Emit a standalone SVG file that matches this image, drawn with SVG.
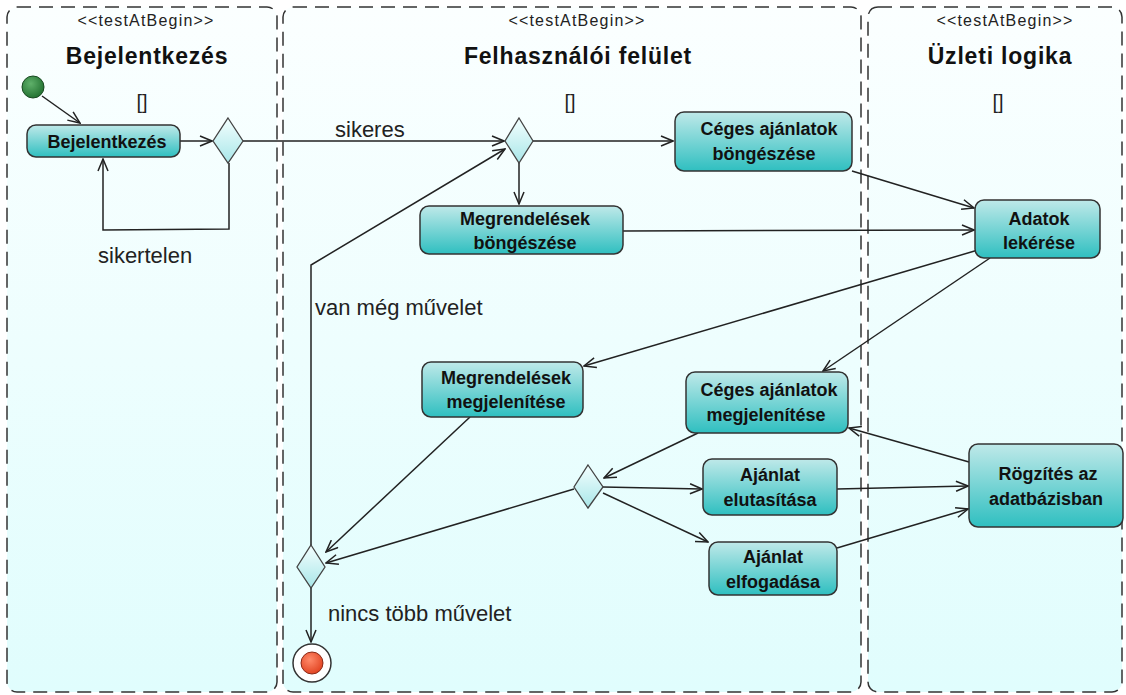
<svg xmlns="http://www.w3.org/2000/svg" width="1126" height="695" viewBox="0 0 1126 695">
<defs>
<linearGradient id="laneG" x1="0" y1="0" x2="0" y2="1"><stop offset="0" stop-color="#fbffff"/><stop offset="1" stop-color="#e0fdfd"/></linearGradient>
<linearGradient id="nodeG" x1="0" y1="0" x2="0" y2="1"><stop offset="0" stop-color="#bfe9e9"/><stop offset="1" stop-color="#2fbfc0"/></linearGradient>
<linearGradient id="decG" x1="0" y1="0" x2="0" y2="1"><stop offset="0" stop-color="#f4ffff"/><stop offset="1" stop-color="#a8e6e8"/></linearGradient>
<radialGradient id="startG" cx="0.4" cy="0.35" r="0.7"><stop offset="0" stop-color="#5fb06a"/><stop offset="1" stop-color="#1f6e2e"/></radialGradient>
<radialGradient id="endG" cx="0.4" cy="0.35" r="0.7"><stop offset="0" stop-color="#ff8a6a"/><stop offset="1" stop-color="#e0401e"/></radialGradient>
<marker id="arr" markerWidth="14" markerHeight="12" refX="13" refY="6" orient="auto" markerUnits="userSpaceOnUse"><path d="M1,1 L13,6 L1,11" fill="none" stroke="#222" stroke-width="1.5"/></marker>
</defs>
<style>
.lane{fill:url(#laneG);stroke:#333;stroke-width:1.5;stroke-dasharray:14 8}
.ster{font-family:"Liberation Sans",Arial,sans-serif;font-size:16px;letter-spacing:1.2px;fill:#222;text-anchor:middle}
.ttl{font-family:"Liberation Sans",Arial,sans-serif;font-size:23px;letter-spacing:0.8px;font-weight:bold;fill:#111;text-anchor:middle}
.br{font-family:"Liberation Sans",Arial,sans-serif;font-size:20px;fill:#222;text-anchor:middle}
.node{fill:url(#nodeG);stroke:#333;stroke-width:1.5}
.nt{font-family:"Liberation Sans",Arial,sans-serif;font-size:18px;font-weight:bold;fill:#111;text-anchor:middle}
.dec{fill:url(#decG);stroke:#444;stroke-width:1.3}
.lbl{font-family:"Liberation Sans",Arial,sans-serif;font-size:22px;fill:#222}
.con{fill:none;stroke:#222;stroke-width:1.5}
</style>
<g id="lanes">
<rect class="lane" x="7" y="7" width="270" height="685" rx="10"/>
<rect class="lane" x="283" y="7" width="578" height="685" rx="10"/>
<rect class="lane" x="868" y="7" width="254" height="685" rx="10"/>
<text class="ster" x="146" y="26">&lt;&lt;testAtBegin&gt;&gt;</text>
<text class="ttl" x="147" y="64">Bejelentkezés</text>
<text class="br" x="142" y="109">[]</text>
<text class="ster" x="577" y="26">&lt;&lt;testAtBegin&gt;&gt;</text>
<text class="ttl" x="578" y="64">Felhasználói felület</text>
<text class="br" x="570" y="109">[]</text>
<text class="ster" x="1005" y="26">&lt;&lt;testAtBegin&gt;&gt;</text>
<text class="ttl" x="1000" y="64">Üzleti logika</text>
<text class="br" x="998" y="109">[]</text>
</g>
<g id="connectors">
<path class="con" d="M42,96 L80,123" marker-end="url(#arr)"/>
<path class="con" d="M180,141 L212,141" marker-end="url(#arr)"/>
<path class="con" d="M229,163 L229,229 L103,230 L103,159" marker-end="url(#arr)"/>
<path class="con" d="M243,141 L504,141" marker-end="url(#arr)"/>
<path class="con" d="M533,141 L673,141" marker-end="url(#arr)"/>
<path class="con" d="M519,163 L519,204" marker-end="url(#arr)"/>
<path class="con" d="M852,171 L974,208" marker-end="url(#arr)"/>
<path class="con" d="M623,231 L974,230" marker-end="url(#arr)"/>
<path class="con" d="M978,250 L584,366" marker-end="url(#arr)"/>
<path class="con" d="M990,258 L823,371" marker-end="url(#arr)"/>
<path class="con" d="M969,462 L849,428" marker-end="url(#arr)"/>
<path class="con" d="M837,489 L968,486" marker-end="url(#arr)"/>
<path class="con" d="M837,548 L968,509" marker-end="url(#arr)"/>
<path class="con" d="M698,433 L604,478" marker-end="url(#arr)"/>
<path class="con" d="M603,487 L702,489" marker-end="url(#arr)"/>
<path class="con" d="M603,493 L708,542" marker-end="url(#arr)"/>
<path class="con" d="M574,489 L326,563" marker-end="url(#arr)"/>
<path class="con" d="M470,417 L326,552" marker-end="url(#arr)"/>
<path class="con" d="M311,545 L311,265 L505,149" marker-end="url(#arr)"/>
<path class="con" d="M311,588 L311,642" marker-end="url(#arr)"/>
<text class="lbl" x="98" y="263">sikertelen</text>
<text class="lbl" x="335" y="137">sikeres</text>
<text class="lbl" x="315" y="315">van még művelet</text>
<text class="lbl" x="328" y="621">nincs több művelet</text>
</g>
<g id="start"><circle cx="33" cy="87" r="11" fill="url(#startG)" stroke="#1a4a22" stroke-width="1"/></g>
<g id="n_bejelentkezes"><rect class="node" x="27" y="125" width="153" height="32" rx="9"/><text class="nt" x="107" y="148">Bejelentkezés</text></g>
<g id="d1"><polygon class="dec" points="228,118 243,141 228,163 213,141"/></g>
<g id="d2"><polygon class="dec" points="519,118 533,141 519,163 505,141"/></g>
<g id="n_ceges_bong"><rect class="node" x="675" y="112" width="177" height="59" rx="9"/><text class="nt" x="769" y="135">Céges ajánlatok</text><text class="nt" x="764" y="160">böngészése</text></g>
<g id="n_megr_bong"><rect class="node" x="420" y="206" width="203" height="48" rx="9"/><text class="nt" x="525" y="225">Megrendelések</text><text class="nt" x="525" y="249">böngészése</text></g>
<g id="n_adatok"><rect class="node" x="975" y="200" width="125" height="58" rx="9"/><text class="nt" x="1039" y="225">Adatok</text><text class="nt" x="1039" y="249">lekérése</text></g>
<g id="n_megr_megj"><rect class="node" x="422" y="362" width="161" height="55" rx="9"/><text class="nt" x="506" y="384">Megrendelések</text><text class="nt" x="506" y="408">megjelenítése</text></g>
<g id="n_ceges_megj"><rect class="node" x="686" y="372" width="162" height="61" rx="9"/><text class="nt" x="769" y="396">Céges ajánlatok</text><text class="nt" x="766" y="421">megjelenítése</text></g>
<g id="n_elut"><rect class="node" x="703" y="459" width="134" height="56" rx="9"/><text class="nt" x="770" y="481">Ajánlat</text><text class="nt" x="770" y="506">elutasítása</text></g>
<g id="n_elfog"><rect class="node" x="709" y="542" width="128" height="53" rx="9"/><text class="nt" x="773" y="563">Ajánlat</text><text class="nt" x="773" y="588">elfogadása</text></g>
<g id="d3"><polygon class="dec" points="588,465 603,487 588,508 574,487"/></g>
<g id="n_rogzites"><rect class="node" x="969" y="444" width="154" height="83" rx="9"/><text class="nt" x="1048" y="480">Rögzítés az</text><text class="nt" x="1046" y="505">adatbázisban</text></g>
<g id="d4"><polygon class="dec" points="311,545 325,567 311,588 297,567"/></g>
<g id="end"><circle cx="312" cy="663" r="19" fill="#fff" stroke="#333" stroke-width="1.5"/><circle cx="312" cy="663" r="11" fill="url(#endG)" stroke="#8a2a18" stroke-width="1"/></g>
</svg>
